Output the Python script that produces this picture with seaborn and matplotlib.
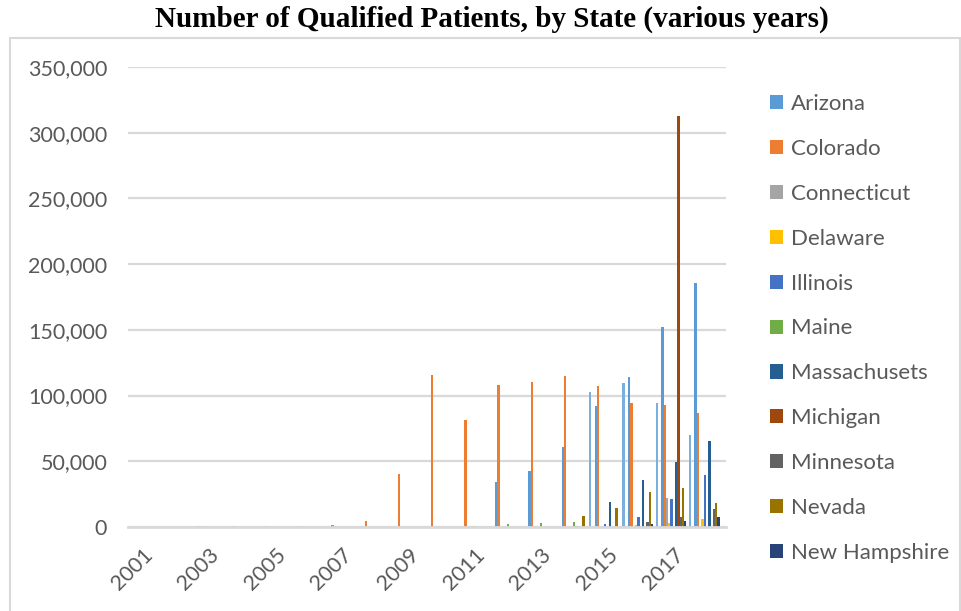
import matplotlib
matplotlib.use('Agg')
import matplotlib.pyplot as plt
import matplotlib.transforms as mtransforms
from matplotlib.patches import Rectangle
from matplotlib.ticker import FuncFormatter
import seaborn as sns
import pandas as pd

# categories: reporting years, one group per year
years = ['2001', '2002', '2003', '2004', '2005', '2006', '2007', '2008', '2009',
         '2010', '2011', '2012', '2013', '2014', '2015', '2016', '2017', '2018']

states = ['Arizona', 'Colorado', 'Connecticut', 'Delaware', 'Illinois', 'Maine',
          'Massachusets', 'Michigan', 'Minnesota', 'Nevada', 'New Hampshire',
          'New Jersey', 'New Mexico']

# qualified patients per state, 2001..2018 (0 = no figure reported)
arizona = [0, 0, 0, 0, 0, 0, 0, 0, 0, 0, 0, 34200, 42600, 60600, 92300, 113900, 152400, 185500]
colorado = [200, 300, 400, 600, 800, 1100, 1800, 4800, 40600, 115700, 81700, 108100, 110400,
            115000, 107300, 94100, 92800, 86500]
connecticut = [0, 0, 0, 0, 0, 0, 0, 0, 0, 0, 0, 0, 0, 0, 0, 0, 22000, 0]
delaware = [0, 0, 0, 0, 0, 0, 0, 0, 0, 0, 0, 0, 0, 0, 0, 1500, 3300, 6300]
illinois = [0, 0, 0, 0, 0, 0, 0, 0, 0, 0, 0, 0, 0, 0, 2300, 7400, 21300, 39300]
maine = [0, 0, 0, 0, 0, 0, 0, 0, 0, 0, 700, 2000, 3300, 3500, 0, 0, 0, 0]
massachusets = [0, 0, 0, 0, 0, 0, 0, 0, 0, 0, 0, 0, 0, 500, 19000, 35800, 49500, 65700]
michigan = [0, 0, 0, 0, 0, 0, 0, 0, 0, 0, 0, 0, 0, 0, 0, 0, 312500, 0]
minnesota = [0, 0, 0, 0, 0, 0, 0, 0, 0, 0, 0, 0, 0, 0, 0, 3600, 7800, 14000]
nevada = [0, 0, 0, 0, 0, 0, 0, 0, 0, 0, 0, 0, 0, 8400, 14500, 26600, 29400, 18000]
new_hampshire = [0, 0, 0, 0, 0, 0, 0, 0, 0, 0, 0, 0, 0, 0, 0, 2300, 4300, 7600]
new_jersey = [0, 0, 0, 0, 0, 0, 0, 0, 0, 0, 0, 0, 0, 0, 0, 0, 0, 0]
new_mexico = [0, 0, 0, 0, 0, 0, 0, 0, 0, 0, 0, 0, 0, 102500, 109300, 94100, 69800, 0]

series = [arizona, colorado, connecticut, delaware, illinois, maine, massachusets,
          michigan, minnesota, nevada, new_hampshire, new_jersey, new_mexico]

# Office-style palette
colors = ['#5B9BD5', '#ED7D31', '#A5A5A5', '#FFC000', '#4472C4', '#70AD47', '#255E91',
          '#9E480E', '#636363', '#997300', '#264478', '#43682B', '#7CAFDD']

rows = []
for state, vals in zip(states, series):
    for yr, v in zip(years, vals):
        rows.append({'year': yr, 'state': state, 'patients': v})
df = pd.DataFrame(rows)

sns.set_style('white')
plt.rcParams['font.family'] = ['Lato', 'DejaVu Sans']

W, H = 961, 611
fig = plt.figure(figsize=(W / 100, H / 100), dpi=100)
ax = fig.add_axes([128 / W, 1 - 527 / H, 598 / W, 460 / H])

sns.barplot(data=df, x='year', y='patients', hue='state', order=years, hue_order=states,
            palette=colors, saturation=1, width=0.897, errorbar=None, linewidth=0, ax=ax)

ax.set_xlim(-0.5, len(years) - 0.5)
ax.set_ylim(0, 350000)
ax.set_yticks(range(0, 350001, 50000))
ax.yaxis.set_major_formatter(FuncFormatter(lambda v, p: f'{v:,.0f}'))
ax.yaxis.grid(True, color='#D9D9D9', lw=1.6)
ax.set_axisbelow(True)
for s in ['top', 'right', 'left']:
    ax.spines[s].set_visible(False)
ax.spines['bottom'].set_color('#D9D9D9')
ax.spines['bottom'].set_linewidth(2)
ax.set_xlabel('')
ax.set_ylabel('')

txt = '#595959'
ax.tick_params(axis='y', length=0, pad=15, labelsize=15.5, labelcolor=txt)
ax.set_xticks(range(0, len(years), 2))
ax.set_xticklabels(years[0::2], rotation=45, ha='right', va='center',
                   rotation_mode='anchor', fontsize=15.5, color=txt)
ax.tick_params(axis='x', length=0, pad=0)
off = mtransforms.ScaledTranslation(5 / 100, -25 / 100, fig.dpi_scale_trans)
for lab in ax.get_xticklabels():
    lab.set_transform(lab.get_transform() + off)

handles, labels = ax.get_legend_handles_labels()
ax.legend(handles[:11], labels[:11], loc='upper left',
          bbox_to_anchor=(750 / W, 1 - 74 / H), bbox_transform=fig.transFigure,
          frameon=False, fontsize=16, labelcolor=txt, handlelength=0.6,
          handleheight=0.6, handletextpad=0.35, labelspacing=1.12)

fig.patches.append(Rectangle((10 / W, -0.05), 950 / W, 1.05 - 38 / H,
                             transform=fig.transFigure, fill=False,
                             edgecolor='#D9D9D9', lw=1.5))

fig.text(492 / W, 1 - 19 / H, 'Number of Qualified Patients, by State (various years)',
         ha='center', va='center', fontsize=21, fontweight='bold',
         family='Liberation Serif', color='black')

fig.savefig('out.png', dpi=100)
